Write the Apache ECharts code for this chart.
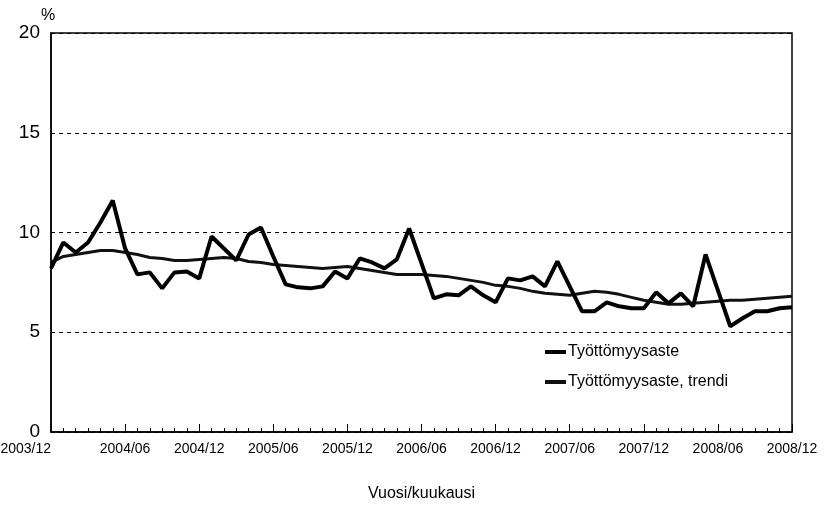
<!DOCTYPE html>
<html lang="fi">
<head>
    <meta charset="utf-8">
    <title>Työttömyysaste</title>
    <style>
        html, body { margin: 0; padding: 0; background: #fff; }
        #id-main-area { width: 828px; height: 505px; }
    </style>
</head>
<body>
    <div id="id-main-area"></div>
    <script src="https://cdn.jsdelivr.net/npm/echarts@6/dist/echarts.min.js"></script>
    <script>
        // kuukaudet 2003/12 - 2008/12
        var startYear = 2003
        var startMonth = 12
        var monthCount = 61

        var rateValues = [
            8.2, 9.5, 9.0, 9.5, 10.5, 11.6, 9.2, 7.9, 8.0, 7.2, 8.0, 8.05,
            7.7, 9.8, 9.2, 8.6, 9.9, 10.25, 8.8, 7.4, 7.25, 7.2, 7.3, 8.05,
            7.7, 8.7, 8.5, 8.2, 8.65, 10.2, 8.45, 6.7, 6.9, 6.85, 7.3, 6.85,
            6.5, 7.7, 7.6, 7.8, 7.3, 8.55, 7.3, 6.05, 6.05, 6.5, 6.3, 6.2,
            6.2, 7.0, 6.45, 6.95, 6.3, 8.9, 7.1, 5.3, 5.7, 6.05, 6.05, 6.2,
            6.25
        ]

        var trendValues = [
            8.5, 8.8, 8.9, 9.0, 9.1, 9.1, 9.0, 8.9, 8.75, 8.7, 8.6, 8.6,
            8.65, 8.7, 8.75, 8.7, 8.55, 8.5, 8.4, 8.35, 8.3, 8.25, 8.2, 8.25,
            8.3, 8.2, 8.1, 8.0, 7.9, 7.9, 7.9, 7.85, 7.8, 7.7, 7.6, 7.5,
            7.35, 7.3, 7.2, 7.05, 6.95, 6.9, 6.85, 6.95, 7.05, 7.0, 6.9, 6.75,
            6.6, 6.5, 6.4, 6.4, 6.45, 6.5, 6.55, 6.6, 6.6, 6.65, 6.7, 6.75,
            6.8
        ]

        var seriesNames = ['Työttömyysaste', 'Työttömyysaste, trendi']

        var makeMonths = () => {
            var l = []
            var y = startYear
            var m = startMonth
            for (var i = 0; i < monthCount; i++) {
                l.push(y + '/' + (m < 10 ? '0' + m : m))
                m++
                if (m > 12) {
                    m = 1
                    y++
                }
            }
            return l
        }

        var showChart = () => {
            var months = makeMonths()
            var element = document.querySelector('#id-main-area')
            var myChart = echarts.init(element)
            var font = '"Liberation Sans", Arial, sans-serif'
            var option = {
                animation: false,
                textStyle: { fontFamily: font, color: '#000' },
                grid: {
                    left: 51,
                    right: 36,
                    top: 33,
                    bottom: 73,
                    outerBoundsMode: 'none',
                    show: true,
                    borderColor: '#000',
                    borderWidth: 1.5,
                },
                legend: {
                    orient: 'vertical',
                    left: 545,
                    top: 344,
                    padding: 0,
                    itemWidth: 21,
                    itemHeight: 4,
                    itemGap: 14,
                    icon: 'rect',
                    textStyle: { fontSize: 16, color: '#000', fontFamily: font, padding: [0, 0, 0, -3] },
                    data: seriesNames,
                },
                xAxis: [
                    {
                        type: 'category',
                        data: months,
                        boundaryGap: false,
                        name: 'Vuosi/kuukausi',
                        nameLocation: 'middle',
                        nameGap: 54,
                        nameTextStyle: { fontSize: 16, color: '#000' },
                        axisLine: { lineStyle: { color: '#000', width: 1.5 } },
                        axisTick: { inside: true, interval: 0, length: 4, lineStyle: { color: '#000' } },
                        axisLabel: { interval: 5, fontSize: 14, color: '#000', margin: 10, alignMinLabel: 'right' },
                        splitLine: { show: false },
                    },
                    {
                        type: 'category',
                        data: months,
                        boundaryGap: false,
                        position: 'bottom',
                        axisLine: { show: false },
                        axisTick: { inside: true, interval: 5, length: 8, lineStyle: { color: '#000' } },
                        axisLabel: { show: false },
                        splitLine: { show: false },
                    },
                ],
                yAxis: {
                    type: 'value',
                    min: 0,
                    max: 20,
                    interval: 5,
                    name: '%',
                    nameGap: 6,
                    nameTextStyle: { fontSize: 16, color: '#000', align: 'left', padding: [0, 0, 0, -10] },
                    axisLine: { show: true, lineStyle: { color: '#000', width: 1.5 } },
                    axisTick: { show: false },
                    axisLabel: { fontSize: 19, color: '#000', margin: 11 },
                    splitLine: { lineStyle: { color: '#000', type: [4, 4], width: 1 } },
                },
                series: [
                    {
                        name: seriesNames[0],
                        type: 'line',
                        data: rateValues,
                        symbol: 'none',
                        lineStyle: { color: '#000', width: 4 },
                        itemStyle: { color: '#000' },
                        z: 3,
                    },
                    {
                        name: seriesNames[1],
                        type: 'line',
                        data: trendValues,
                        symbol: 'none',
                        lineStyle: { color: '#111', width: 3 },
                        itemStyle: { color: '#111' },
                        z: 2,
                    },
                ],
            }
            myChart.setOption(option, true)
        }

        var __main = () => {
            showChart()
        }

        __main()
    </script>
</body>
</html>
